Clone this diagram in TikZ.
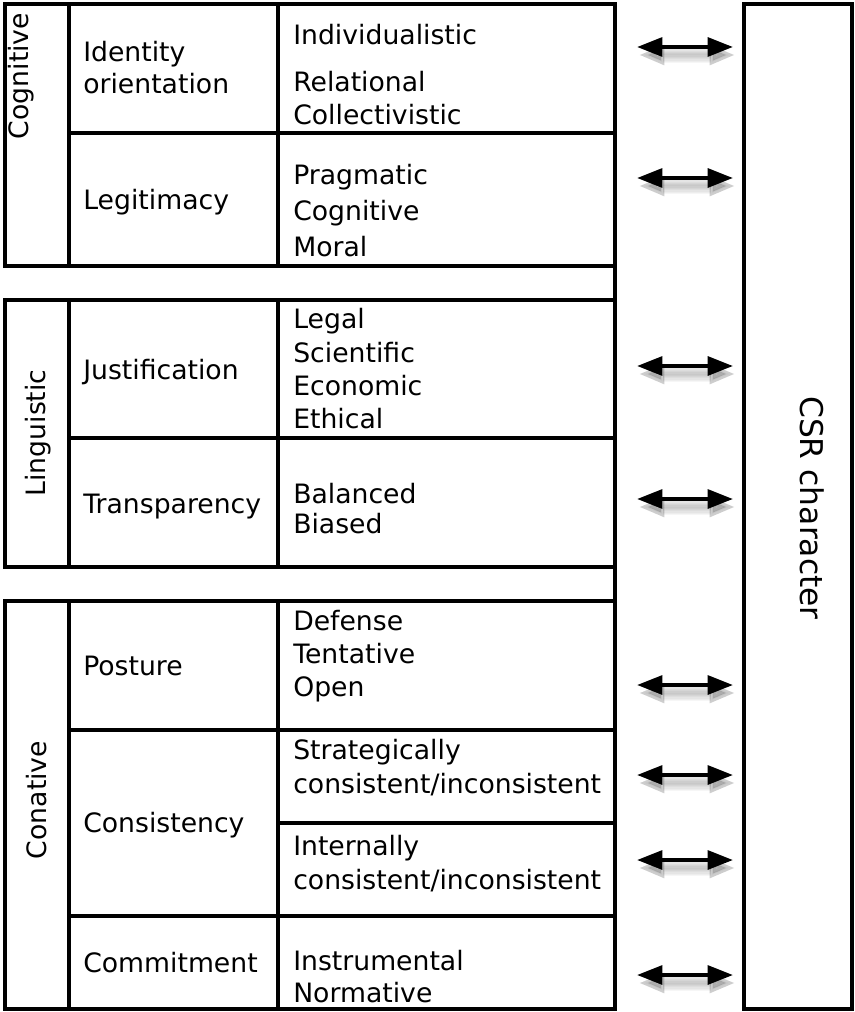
\documentclass[tikz,border=0pt]{standalone}
\usepackage{fontspec}
\setmainfont{DejaVu Sans}
\usetikzlibrary{arrows.meta}
\tikzset{
	grid/.style={line width=2.3pt},
	item/.style={anchor=base west,inner sep=0pt,font=\fontsize{20}{24}\selectfont},
	aspect/.style={anchor=center,inner sep=0pt,font=\fontsize{20}{24}\selectfont},
	link/.style={line width=3pt,{Triangle[length=19pt,width=14pt]}-{Triangle[length=19pt,width=14pt]}},
	linkshade/.style={link,draw=black,fill=black,opacity=0.035}
}
\begin{document}
\begin{tikzpicture}[x=0.75pt,y=-0.75pt]
		\useasboundingbox (0,0) rectangle (854,1012);
		% three blocks
		\draw[grid] (5,4) rectangle (615,266);
		\draw[grid] (5,300) rectangle (615,567);
		\draw[grid] (5,601) rectangle (615,1009);
		\draw[grid] (615,4) to (615,1009);
		\draw[grid] (69,4) to (69,266);
		\draw[grid] (278,4) to (278,266);
		\draw[grid] (69,300) to (69,567);
		\draw[grid] (278,300) to (278,567);
		\draw[grid] (69,601) to (69,1009);
		\draw[grid] (278,601) to (278,1009);
		\draw[grid] (69,133) to (615,133);
		\draw[grid] (69,438) to (615,438);
		\draw[grid] (69,730) to (615,730);
		\draw[grid] (278,823) to (615,823);
		\draw[grid] (69,916) to (615,916);
		% first column
		\node[aspect,rotate=90] (cog) at (21.5,76) {Cognitive};
		\node[aspect,rotate=90] (lin) at (38.5,433) {Linguistic};
		\node[aspect,rotate=90] (con) at (37,800) {Conative};
		% second column
		\node[item] (ident) at (83,62) {Identity};
		\node[item] (orient) at (83,94) {orientation};
		\node[item] (legit) at (83,210) {Legitimacy};
		\node[item] (justif) at (83,379) {Justification};
		\node[item] (transp) at (83,513) {Transparency};
		\node[item] (post) at (83,675) {Posture};
		\node[item] (consis) at (83,832) {Consistency};
		\node[item] (commit) at (83,972) {Commitment};
		% third column
		\node[item] (indiv) at (293,45) {Individualistic};
		\node[item] (relat) at (293,92) {Relational};
		\node[item] (collect) at (293,125) {Collectivistic};
		\node[item] (pragm) at (293,185) {Pragmatic};
		\node[item] (cogn) at (293,221) {Cognitive};
		\node[item] (moral) at (293,257) {Moral};
		\node[item] (legal) at (293,328) {Legal};
		\node[item] (scient) at (293,362) {Scientific};
		\node[item] (econ) at (293,395) {Economic};
		\node[item] (ethic) at (293,428) {Ethical};
		\node[item] (balan) at (293,503) {Balanced};
		\node[item] (bias) at (293,533) {Biased};
		\node[item] (defen) at (293,630) {Defense};
		\node[item] (tenta) at (293,663) {Tentative};
		\node[item] (open) at (293,696) {Open};
		\node[item] (strat) at (293,759) {Strategically};
		\node[item] (stratc) at (293,793) {consistent/inconsistent};
		\node[item] (inter) at (293,855) {Internally};
		\node[item] (interc) at (293,889) {consistent/inconsistent};
		\node[item] (instr) at (293,970) {Instrumental};
		\node[item] (norm) at (293,1002) {Normative};
		% CSR box
		\draw[grid] (744,4) rectangle (852,1009);
		\node[aspect,rotate=-90,font=\fontsize{23.5}{28}\selectfont] (csr) at (812,508) {CSR character};
		% arrows
		\foreach \y [count=\i] in {47,178,366,499,685,775,860,975} {
			\coordinate (l\i) at (637,\y);
			\coordinate (r\i) at (733,\y);
			\foreach \k in {0,...,5}
				\draw[linkshade,line width=3pt+1.8*\k pt] ([xshift=1.5pt,yshift=-6pt]l\i) to ([xshift=1.5pt,yshift=-6pt]r\i);
			\draw[link] (l\i) to (r\i);
		}
	\end{tikzpicture}
\end{document}
